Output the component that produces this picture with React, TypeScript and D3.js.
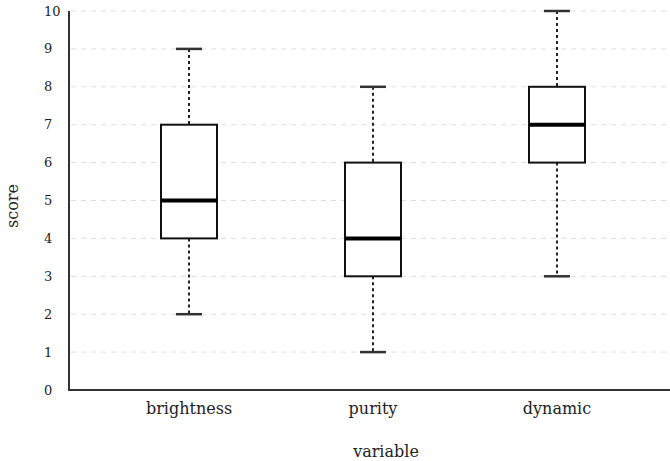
import React from 'react';
import * as d3 from 'd3';

const categories = ['brightness', 'purity', 'dynamic'];
const mins = [2, 1, 3];
const q1s = [4, 3, 6];
const medians = [5, 4, 7];
const q3s = [7, 6, 8];
const maxs = [9, 8, 10];
const yTicks = [0, 1, 2, 3, 4, 5, 6, 7, 8, 9, 10];

const W = 670;
const H = 461;
const margin = { top: 11, left: 69, bottom: 71 };
const font = '"DejaVu Serif", serif';

const App = () => {
  const y = d3
    .scaleLinear()
    .domain([0, 10])
    .range([H - margin.bottom, margin.top]);

  const x = d3.scalePoint<string>().domain(categories).range([189, 557]);

  const boxW = 56;
  const capW = 26;

  return (
    <svg
      width={W}
      height={H}
      style={{ position: 'absolute', left: 0, top: 0, background: '#fff' }}
    >
      {/* grid */}
      {yTicks
        .filter((t) => t > 0)
        .map((t) => (
          <line
            key={'g' + t}
            x1={margin.left + 2}
            x2={W}
            y1={y(t)}
            y2={y(t)}
            stroke="#ddd"
            strokeWidth={1}
            strokeDasharray="5,5"
          />
        ))}

      {/* axes */}
      <line
        x1={margin.left}
        x2={margin.left}
        y1={y(10)}
        y2={y(0)}
        stroke="#333"
        strokeWidth={2}
      />
      <line
        x1={margin.left - 1}
        x2={W}
        y1={y(0)}
        y2={y(0)}
        stroke="#333"
        strokeWidth={2}
      />

      {yTicks.map((t) => (
        <text
          key={'t' + t}
          x={44}
          y={y(t)}
          dy="0.35em"
          fontFamily={font}
          fontSize={13}
          fill="#222"
        >
          {t}
        </text>
      ))}

      {categories.map((c, i) => {
        const cx = x(c) as number;
        return (
          <g key={c}>
            <line
              x1={cx}
              x2={cx}
              y1={y(maxs[i])}
              y2={y(q3s[i])}
              stroke="#222"
              strokeWidth={2}
              strokeDasharray="3,3"
            />
            <line
              x1={cx}
              x2={cx}
              y1={y(q1s[i])}
              y2={y(mins[i])}
              stroke="#222"
              strokeWidth={2}
              strokeDasharray="3,3"
            />
            <line
              x1={cx - capW / 2}
              x2={cx + capW / 2}
              y1={y(maxs[i])}
              y2={y(maxs[i])}
              stroke="#333"
              strokeWidth={2.5}
            />
            <line
              x1={cx - capW / 2}
              x2={cx + capW / 2}
              y1={y(mins[i])}
              y2={y(mins[i])}
              stroke="#333"
              strokeWidth={2.5}
            />
            <rect
              x={cx - boxW / 2}
              y={y(q3s[i])}
              width={boxW}
              height={y(q1s[i]) - y(q3s[i])}
              fill="#fff"
              stroke="#111"
              strokeWidth={2}
            />
            <line
              x1={cx - boxW / 2}
              x2={cx + boxW / 2}
              y1={y(medians[i])}
              y2={y(medians[i])}
              stroke="#000"
              strokeWidth={4}
            />
            <text
              x={cx}
              y={414}
              textAnchor="middle"
              fontFamily={font}
              fontSize={16}
              fill="#222"
            >
              {c}
            </text>
          </g>
        );
      })}

      <text
        x={386}
        y={457}
        textAnchor="middle"
        fontFamily={font}
        fontSize={16}
        fill="#222"
      >
        variable
      </text>
      <text
        transform={`translate(18, 206) rotate(-90)`}
        textAnchor="middle"
        fontFamily={font}
        fontSize={16}
        fill="#222"
      >
        score
      </text>
    </svg>
  );
};

export default App;
